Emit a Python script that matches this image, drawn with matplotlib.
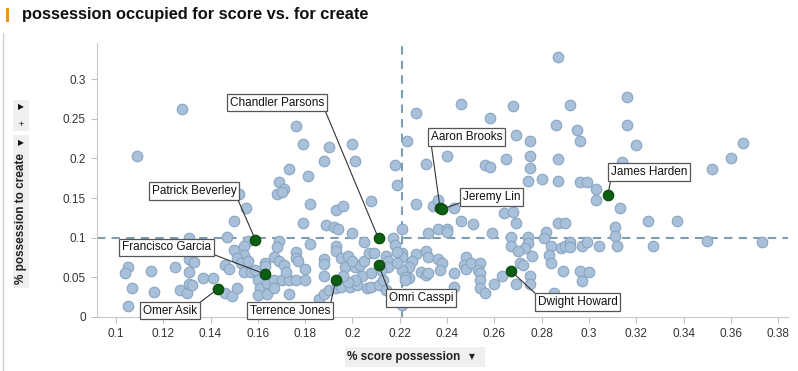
import matplotlib.pyplot as plt
from matplotlib.patches import Rectangle
from matplotlib.lines import Line2D

# % score possession (x) / % possession to create (y)
score_pct = [
    0.128, 0.109, 0.176, 0.179, 0.190, 0.200, 0.188, 0.201, 0.218, 0.173, 0.181, 0.169,
    0.223, 0.287, 0.227, 0.246, 0.268, 0.292, 0.316, 0.258, 0.286, 0.295, 0.316, 0.269, 0.275, 0.296,
    0.320, 0.365, 0.240, 0.231, 0.256, 0.258, 0.265, 0.275, 0.287, 0.275, 0.314, 0.360, 0.352,
    0.274, 0.280, 0.287, 0.296, 0.299, 0.303, 0.303, 0.313, 0.227, 0.234, 0.236, 0.243, 0.264, 0.268,
    0.246, 0.251, 0.269, 0.287, 0.290, 0.325, 0.337,
    0.221, 0.232, 0.236, 0.240, 0.240, 0.259, 0.267, 0.274, 0.282, 0.281, 0.311, 0.311, 0.350, 0.373,
    0.267, 0.274, 0.273, 0.270, 0.284, 0.288, 0.290, 0.292, 0.292, 0.297, 0.299, 0.304, 0.312, 0.327,
    0.221, 0.221, 0.227, 0.231, 0.232, 0.236, 0.238, 0.237, 0.225, 0.224, 0.221, 0.224, 0.222, 0.229,
    0.231, 0.232, 0.243, 0.248, 0.247, 0.248, 0.250, 0.254, 0.253, 0.254, 0.254, 0.254, 0.256, 0.243,
    0.260, 0.263, 0.269, 0.275, 0.275, 0.271, 0.272, 0.276, 0.283, 0.284, 0.289, 0.296, 0.300, 0.297,
    0.285, 0.221,
    0.168, 0.171, 0.170, 0.152, 0.155, 0.182, 0.193, 0.196, 0.208, 0.219, 0.150, 0.179, 0.189, 0.192,
    0.194, 0.200, 0.147, 0.156, 0.154, 0.169, 0.168, 0.182, 0.193, 0.193, 0.205, 0.217, 0.218, 0.131,
    0.105, 0.105, 0.104, 0.107, 0.115, 0.116, 0.125, 0.131, 0.132, 0.131, 0.133, 0.127, 0.130, 0.131,
    0.132, 0.137, 0.141, 0.146, 0.148, 0.146, 0.149, 0.151, 0.150, 0.154, 0.151, 0.153, 0.156, 0.154,
    0.157, 0.159, 0.163, 0.163, 0.160, 0.161, 0.164, 0.167, 0.170, 0.173, 0.176, 0.180, 0.160, 0.164,
    0.167, 0.169, 0.171, 0.172, 0.167, 0.173, 0.176, 0.176, 0.177, 0.180, 0.188, 0.188, 0.188,
    0.186, 0.188, 0.190, 0.193, 0.195, 0.199, 0.202, 0.206, 0.208, 0.211, 0.213, 0.214, 0.195, 0.198,
    0.197, 0.201, 0.203, 0.205, 0.207, 0.209, 0.214, 0.215, 0.215, 0.212, 0.208, 0.204, 0.201, 0.198,
    0.196, 0.200, 0.219, 0.219, 0.222,
]
create_pct = [
    0.262, 0.203, 0.241, 0.218, 0.215, 0.218, 0.197, 0.197, 0.192, 0.187, 0.178, 0.170,
    0.222, 0.328, 0.257, 0.269, 0.266, 0.267, 0.277, 0.251, 0.242, 0.236, 0.242, 0.229, 0.222, 0.222,
    0.217, 0.219, 0.203, 0.193, 0.192, 0.189, 0.199, 0.203, 0.199, 0.188, 0.195, 0.201, 0.187,
    0.171, 0.174, 0.171, 0.170, 0.170, 0.161, 0.148, 0.137, 0.143, 0.140, 0.147, 0.137, 0.131, 0.132,
    0.121, 0.117, 0.118, 0.119, 0.119, 0.121, 0.121,
    0.111, 0.106, 0.111, 0.111, 0.107, 0.106, 0.101, 0.101, 0.107, 0.099, 0.114, 0.102, 0.096, 0.094,
    0.090, 0.093, 0.087, 0.083, 0.090, 0.087, 0.089, 0.094, 0.088, 0.089, 0.095, 0.090, 0.089, 0.089,
    0.080, 0.075, 0.079, 0.083, 0.076, 0.073, 0.068, 0.059, 0.070, 0.063, 0.059, 0.049, 0.050, 0.056,
    0.053, 0.055, 0.055, 0.075, 0.066, 0.060, 0.068, 0.068, 0.059, 0.055, 0.047, 0.037, 0.030, 0.038,
    0.041, 0.051, 0.041, 0.051, 0.041, 0.068, 0.066, 0.077, 0.078, 0.068, 0.058, 0.058, 0.057, 0.045,
    0.030, 0.015,
    0.155, 0.161, 0.158, 0.155, 0.138, 0.143, 0.135, 0.140, 0.146, 0.167, 0.121, 0.119, 0.116, 0.114,
    0.111, 0.106, 0.101, 0.096, 0.089, 0.096, 0.088, 0.092, 0.090, 0.083, 0.094, 0.100, 0.091, 0.099,
    0.014, 0.063, 0.055, 0.036, 0.058, 0.031, 0.063, 0.057, 0.070, 0.073, 0.069, 0.034, 0.030, 0.042,
    0.040, 0.049, 0.049, 0.066, 0.060, 0.030, 0.026, 0.036, 0.084, 0.078, 0.074, 0.068, 0.070, 0.057,
    0.057, 0.059, 0.068, 0.064, 0.047, 0.037, 0.043, 0.047, 0.046, 0.046, 0.047, 0.047, 0.028, 0.029,
    0.076, 0.070, 0.066, 0.057, 0.037, 0.029, 0.082, 0.074, 0.070, 0.060, 0.073, 0.067, 0.051,
    0.023, 0.029, 0.034, 0.036, 0.038, 0.038, 0.040, 0.036, 0.038, 0.040, 0.046, 0.034, 0.074, 0.077,
    0.063, 0.063, 0.066, 0.071, 0.081, 0.080, 0.077, 0.071, 0.063, 0.059, 0.055, 0.051, 0.047, 0.044,
    0.051, 0.070, 0.082, 0.068, 0.047,
]

# highlighted players
players = ["Chandler Parsons", "Aaron Brooks", "James Harden", "Jeremy Lin", "Patrick Beverley",
           "Francisco Garcia", "Omer Asik", "Terrence Jones", "Omri Casspi", "Dwight Howard"]
players_score = [0.211, 0.237, 0.308, 0.238, 0.159, 0.163, 0.143, 0.193, 0.211, 0.267]
players_create = [0.099, 0.138, 0.154, 0.136, 0.097, 0.054, 0.035, 0.047, 0.066, 0.058]

mean_score = 0.221
mean_create = 0.1

xticks = [0.1, 0.12, 0.14, 0.16, 0.18, 0.2, 0.22, 0.24, 0.26, 0.28, 0.3, 0.32, 0.34, 0.36, 0.38]
yticks = [0, 0.05, 0.1, 0.15, 0.2, 0.25, 0.3]

# label box placement (figure pixels from top-left) and line anchor on the box
label_pos = {
    "Chandler Parsons": (230, 102.5, (1, 0)),
    "Aaron Brooks": (431, 137, (0, 0)),
    "James Harden": (611, 172, (0, 0)),
    "Jeremy Lin": (463, 197, (0, 0.1)),
    "Patrick Beverley": (152, 191, (1, 0)),
    "Francisco Garcia": (122, 247.5, (1, 0)),
    "Omer Asik": (143, 310.5, (1, 1)),
    "Terrence Jones": (250, 310.5, (1, 1)),
    "Omri Casspi": (389, 298, (0, 1)),
    "Dwight Howard": (538, 302, (0, 1)),
}

W, H = 798, 371
plt.rcParams['font.family'] = ['Liberation Sans', 'DejaVu Sans']
fig = plt.figure(figsize=(W / 100, H / 100), dpi=100)
ax = fig.add_axes([97 / W, (H - 317) / H, (788 - 97) / W, (317 - 43) / H])

ax.set_xlim(0.092, 0.3841)
ax.set_ylim(-0.0002, 0.3458)

ax.axvline(mean_score, color='#7d9db2', ls=(0, (4, 3)), lw=1.5, zorder=2)
ax.axhline(mean_create, color='#7d9db2', ls=(0, (4, 3)), lw=1.5, zorder=2)

ax.scatter(score_pct, create_pct, s=58, c='#a8c0d9', edgecolors='#8aa5c1', linewidths=0.8, zorder=3)
ax.scatter(players_score, players_create, s=58, c='#0b5e12', edgecolors='#08480c', linewidths=0.8, zorder=5)

for name, px, py in zip(players, players_score, players_create):
    tx, ty, rel = label_pos[name]
    ax.annotate(name, xy=(px, py), xytext=(tx, H - ty), textcoords='figure pixels',
                ha='left', va='center', fontsize=8.5, color='#111111', zorder=6,
                bbox=dict(boxstyle='square,pad=0.22', fc='white', ec='#555555', lw=0.9),
                arrowprops=dict(arrowstyle='-', color='#333333', lw=0.8, relpos=rel,
                                shrinkA=0, shrinkB=3))

ax.set_xticks(xticks)
ax.set_xticklabels(['%g' % t for t in xticks])
ax.set_yticks(yticks)
ax.set_yticklabels(['%g' % t for t in yticks])
ax.tick_params(length=4, width=0.8, color='#c0c0c0', labelsize=8.5, labelcolor='#333333', pad=4)
for side in ['top', 'right']:
    ax.spines[side].set_visible(False)
for side in ['left', 'bottom']:
    ax.spines[side].set_color('#c8c8c8')

# title with orange marker
fig.patches.append(Rectangle((6, H - 22), 3, 14, transform=None, fc='#f39019', ec='none'))
fig.text(22 / W, 1 - 15 / H, 'possession occupied for score vs. for create', fontsize=11.8,
         fontweight='bold', va='center', ha='left', color='#111111')

# left frame line
fig.add_artist(Line2D([2.5 / W, 2.5 / W], [0, 1 - 33 / H], color='#d0d0d0', lw=1))

# y axis label block
fig.patches.append(Rectangle((13, H - 131), 16, 31, transform=None, fc='#efefef', ec='none'))
fig.patches.append(Rectangle((13, H - 288), 16, 153, transform=None, fc='#efefef', ec='none'))
fig.text(21 / W, 1 - 107 / H, '▶', fontsize=5.5, ha='center', va='center', color='#111111',
         family='DejaVu Sans')
fig.text(21 / W, 1 - 124 / H, '+', fontsize=6.5, ha='center', va='center', color='#111111')
fig.text(21 / W, 1 - 143 / H, '▶', fontsize=5.5, ha='center', va='center', color='#111111',
         family='DejaVu Sans')
fig.text(21 / W, 1 - 219 / H, '% possession to create', fontsize=8.5, fontweight='bold',
         rotation=90, ha='center', va='center', color='#222222')

# x axis label block
fig.patches.append(Rectangle((345, H - 367), 140, 20, transform=None, fc='#efefef', ec='none'))
fig.text(404 / W, 1 - 357 / H, '% score possession', fontsize=8.5, fontweight='bold',
         ha='center', va='center', color='#222222')
fig.text(472 / W, 1 - 357 / H, '▼', fontsize=5.5, ha='center', va='center', color='#222222',
         family='DejaVu Sans')

fig.savefig('out.png', dpi=100)
